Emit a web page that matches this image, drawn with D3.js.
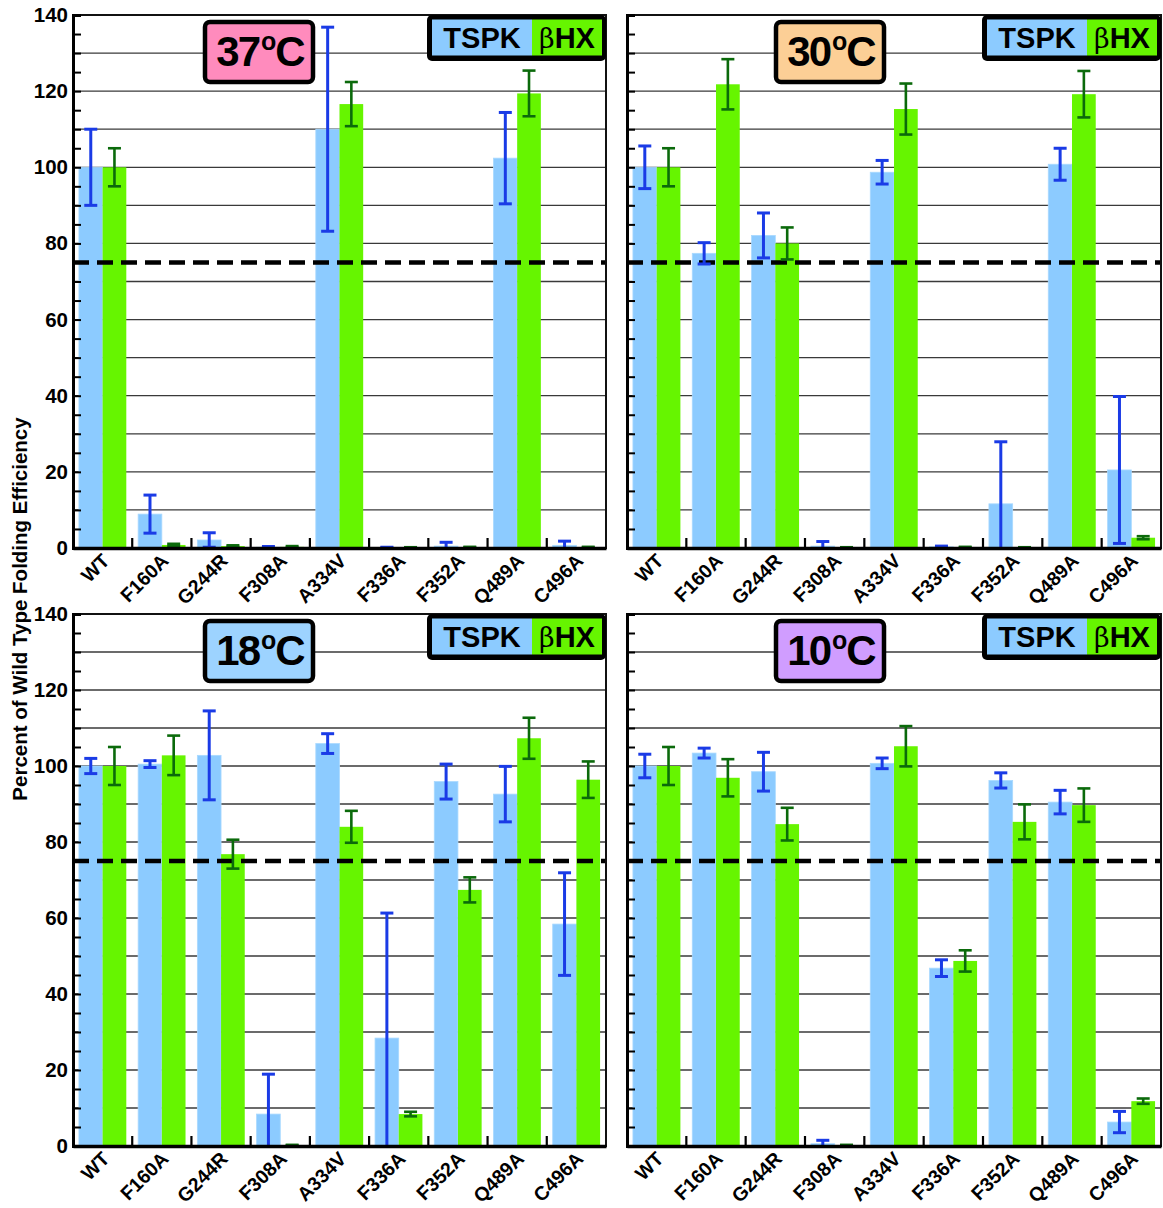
<!DOCTYPE html>
<html><head><meta charset="utf-8">
<script src="https://cdn.jsdelivr.net/npm/d3@7"></script>
<style>
html,body{margin:0;padding:0;background:#fff;}
svg{display:block;}
text{font-family:"Liberation Sans",Arial,Helvetica,sans-serif;font-weight:bold;}
</style></head>
<body><svg id="c" width="1163" height="1208"></svg>
<script>
const categories = ["WT","F160A","G244R","F308A","A334V","F336A","F352A","Q489A","C496A"];
const seriesNames = ["TSPK","βHX"];
const temperatures = ["37","30","18","10"];
const tempColors = ["#ff8bbd","#fccf96","#9dd3ff","#d09dff"];
const yTickLabels = [0,20,40,60,80,100,120,140];
const threshold = 75;

const tspk37 = [100, 8.9, 2.1, 0.2, 110, 0.1, 0.5, 102.4, 0.7];
const tspk37Err = [10, 5, 1.9, 0.2, 26.8, 0.1, 1.0, 12, 1.1];
const hx37 = [100, 0.8, 0.5, 0.3, 116.6, 0.1, 0.2, 119.4, 0.2];
const hx37Err = [5, 0.3, 0.2, 0.2, 5.8, 0.1, 0.1, 6, 0.1];

const tspk30 = [100, 77.4, 82.1, 0.5, 98.7, 0.3, 11.6, 100.8, 20.5];
const tspk30Err = [5.6, 2.8, 5.9, 1.2, 3.1, 0.2, 16.3, 4.2, 19.3];
const hx30 = [100, 121.8, 80, 0.1, 115.3, 0.2, 0.1, 119.2, 2.7];
const hx30Err = [5, 6.6, 4.2, 0.1, 6.7, 0.1, 0.1, 6.1, 0.4];

const tspk18 = [100, 100.5, 102.8, 8.4, 105.9, 28.4, 95.9, 92.6, 58.4];
const tspk18Err = [2, 0.9, 11.7, 10.5, 2.6, 32.9, 4.6, 7.3, 13.5];
const hx18 = [100, 102.8, 76.8, 0.2, 84, 8.4, 67.4, 107.3, 96.4];
const hx18Err = [5, 5.2, 3.8, 0.1, 4.2, 0.6, 3.3, 5.4, 4.8];

const tspk10 = [100, 103.4, 98.5, 0.6, 100.7, 46.8, 96.2, 90.5, 6.3];
const tspk10Err = [3.1, 1.3, 5.1, 0.9, 1.4, 2.2, 2, 3.1, 2.8];
const hx10 = [100, 96.9, 84.7, 0.2, 105.2, 48.7, 85.3, 89.7, 11.8];
const hx10Err = [5, 4.9, 4.3, 0.1, 5.3, 2.8, 4.6, 4.4, 0.7];

const panelData = [
  {tspk:tspk37, tspkErr:tspk37Err, hx:hx37, hxErr:hx37Err},
  {tspk:tspk30, tspkErr:tspk30Err, hx:hx30, hxErr:hx30Err},
  {tspk:tspk18, tspkErr:tspk18Err, hx:hx18, hxErr:hx18Err},
  {tspk:tspk10, tspkErr:tspk10Err, hx:hx10, hxErr:hx10Err}
];

const BLUE = "#8ccbff", GREEN = "#66f500", EBLUE = "#1a3be6", EGREEN = "#0b6a0b";

const layout = [
  {x0:73, x1:606, yTop:15, yBot:548, labels:true, boxX:205},
  {x0:627, x1:1161, yTop:15, yBot:548, labels:false, boxX:776},
  {x0:73, x1:606, yTop:614, yBot:1146, labels:true, boxX:205},
  {x0:627, x1:1161, yTop:614, yBot:1146, labels:false, boxX:776}
];

const svg = d3.select("#c");
const defs = svg.append("defs");

layout.forEach((L, pi) => {
  const d = panelData[pi];
  const x = d3.scaleBand().domain(categories).range([L.x0, L.x1]).paddingInner(0.2).paddingOuter(0.1);
  const xs = d3.scaleBand().domain(seriesNames).range([0, x.bandwidth()]);
  const y = d3.scaleLinear().domain([0, 140]).range([L.yBot, L.yTop]);
  const g = svg.append("g");

  defs.append("clipPath").attr("id", "clip" + pi)
    .append("rect").attr("x", L.x0).attr("y", L.yTop).attr("width", L.x1 - L.x0).attr("height", L.yBot - L.yTop);

  // grid lines every 10
  const gridVals = d3.range(10, 140, 10);
  g.append("g").selectAll("line").data(gridVals).join("line")
    .attr("x1", L.x0).attr("x2", L.x1)
    .attr("y1", v => y(v)).attr("y2", v => y(v))
    .attr("stroke", "#3a3a3a").attr("stroke-width", 1.3);

  // bars
  const rows = categories.map((c, i) => ({c, i}));
  const bars = g.append("g");
  bars.selectAll("rect.t").data(rows).join("rect")
    .attr("x", r => x(r.c) + xs("TSPK")).attr("width", xs.bandwidth())
    .attr("y", r => y(d.tspk[r.i])).attr("height", r => y(0) - y(d.tspk[r.i]))
    .attr("fill", BLUE).attr("stroke", "#a9d9ff").attr("stroke-width", 0.8);
  bars.selectAll("rect.h").data(rows).join("rect")
    .attr("x", r => x(r.c) + xs("βHX")).attr("width", xs.bandwidth())
    .attr("y", r => y(d.hx[r.i])).attr("height", r => y(0) - y(d.hx[r.i]))
    .attr("fill", GREEN);

  // threshold dashed line
  g.append("line").attr("x1", L.x0).attr("x2", L.x1)
    .attr("y1", y(threshold)).attr("y2", y(threshold))
    .attr("stroke", "#000").attr("stroke-width", 4.5).attr("stroke-dasharray", "16,8");

  // error bars
  const eg = g.append("g").attr("clip-path", `url(#clip${pi})`);
  function errBars(vals, errs, key, color, sw) {
    const cx = r => x(r.c) + xs(key) + xs.bandwidth() / 2;
    const sel = eg.append("g").selectAll("g").data(rows).join("g");
    sel.append("line").attr("x1", cx).attr("x2", cx)
      .attr("y1", r => y(vals[r.i] - errs[r.i])).attr("y2", r => y(vals[r.i] + errs[r.i]))
      .attr("stroke", color).attr("stroke-width", sw);
    [-1, 1].forEach(s => {
      sel.append("line").attr("x1", r => cx(r) - 6.5).attr("x2", r => cx(r) + 6.5)
        .attr("y1", r => y(vals[r.i] + s * errs[r.i])).attr("y2", r => y(vals[r.i] + s * errs[r.i]))
        .attr("stroke", color).attr("stroke-width", sw);
    });
  }
  errBars(d.tspk, d.tspkErr, "TSPK", EBLUE, 3);
  errBars(d.hx, d.hxErr, "βHX", EGREEN, 2.6);

  // frame
  g.append("rect").attr("x", L.x0).attr("y", L.yTop).attr("width", L.x1 - L.x0).attr("height", L.yBot - L.yTop)
    .attr("fill", "none").attr("stroke", "#111").attr("stroke-width", 2);

  // y axis
  const yAxis = d3.axisLeft(y).tickValues(d3.range(0, 141, 5)).tickSize(-8).tickPadding(6)
    .tickFormat(v => (L.labels && yTickLabels.includes(v)) ? v : "");
  const ya = g.append("g").attr("transform", `translate(${L.x0},0)`).call(yAxis);
  ya.select(".domain").attr("stroke", "#000").attr("stroke-width", 3);
  ya.selectAll(".tick line").attr("stroke", "#000").attr("stroke-width", 2);
  ya.selectAll(".tick text").attr("font-size", 20.5).attr("fill", "#000")
    .attr("font-family", "'Liberation Sans',Arial,sans-serif").attr("font-weight", "bold").attr("x", -5);

  // x axis
  const xAxis = d3.axisBottom(x).tickSize(0).tickPadding(0);
  const xa = g.append("g").attr("transform", `translate(0,${L.yBot})`).call(xAxis);
  xa.select(".domain").attr("stroke", "#000").attr("stroke-width", 3.5);
  xa.selectAll(".tick text")
    .attr("font-size", 19.5).attr("fill", "#000")
    .attr("font-family", "'Liberation Sans',Arial,sans-serif").attr("font-weight", "bold")
    .attr("text-anchor", "end").attr("y", 0).attr("dy", 0)
    .attr("transform", "translate(8,14) rotate(-45)");
  // boundary ticks
  g.append("g").selectAll("line").data(categories.slice(1)).join("line")
    .attr("x1", c => x(c) - x.step() * x.paddingInner() / 2)
    .attr("x2", c => x(c) - x.step() * x.paddingInner() / 2)
    .attr("y1", L.yBot).attr("y2", L.yBot - 10)
    .attr("stroke", "#000").attr("stroke-width", 2.2);

  // temperature label box
  const bw = 108, bh = 60, by = L.yTop + 7;
  g.append("rect").attr("x", L.boxX).attr("y", by).attr("width", bw).attr("height", bh)
    .attr("rx", 5).attr("fill", tempColors[pi]).attr("stroke", "#000").attr("stroke-width", 4.5);
  const tt = g.append("text").attr("x", L.boxX + bw / 2 + 1).attr("y", by + 44)
    .attr("text-anchor", "middle").attr("font-size", 42).attr("letter-spacing", -2).attr("fill", "#000");
  tt.append("tspan").text(temperatures[pi]);
  tt.append("tspan").attr("font-size", 25).attr("dy", -16).attr("dx", 2).text("o");
  tt.append("tspan").attr("dy", 16).attr("dx", 1).text("C");

  // legend
  const lw = 179, lh = 46, lx = L.x1 - lw, ly = L.yTop;
  g.append("rect").attr("x", lx).attr("y", ly).attr("width", lw).attr("height", lh)
    .attr("rx", 5).attr("fill", "#000");
  g.append("rect").attr("x", lx + 5).attr("y", ly + 4.5).attr("width", 100).attr("height", lh - 10)
    .attr("fill", BLUE);
  g.append("rect").attr("x", lx + 105).attr("y", ly + 4.5).attr("width", lw - 109).attr("height", lh - 10)
    .attr("fill", GREEN);
  g.append("text").attr("x", lx + 55).attr("y", ly + 33).attr("text-anchor", "middle")
    .attr("font-size", 29).attr("fill", "#000").text(seriesNames[0]);
  const lt = g.append("text").attr("x", lx + 140).attr("y", ly + 33).attr("text-anchor", "middle")
    .attr("font-size", 29).attr("fill", "#000");
  lt.append("tspan").attr("font-family", "'DejaVu Serif','Liberation Serif',serif").attr("font-weight", "normal").attr("font-size", 27).text(seriesNames[1].slice(0, 1));
  lt.append("tspan").text(seriesNames[1].slice(1));
});

// y axis title
svg.append("text").attr("transform", "translate(27,609) rotate(-90)")
  .attr("text-anchor", "middle").attr("font-size", 20.5).attr("fill", "#000")
  .text("Percent of Wild Type Folding Efficiency");
</script></body></html>
